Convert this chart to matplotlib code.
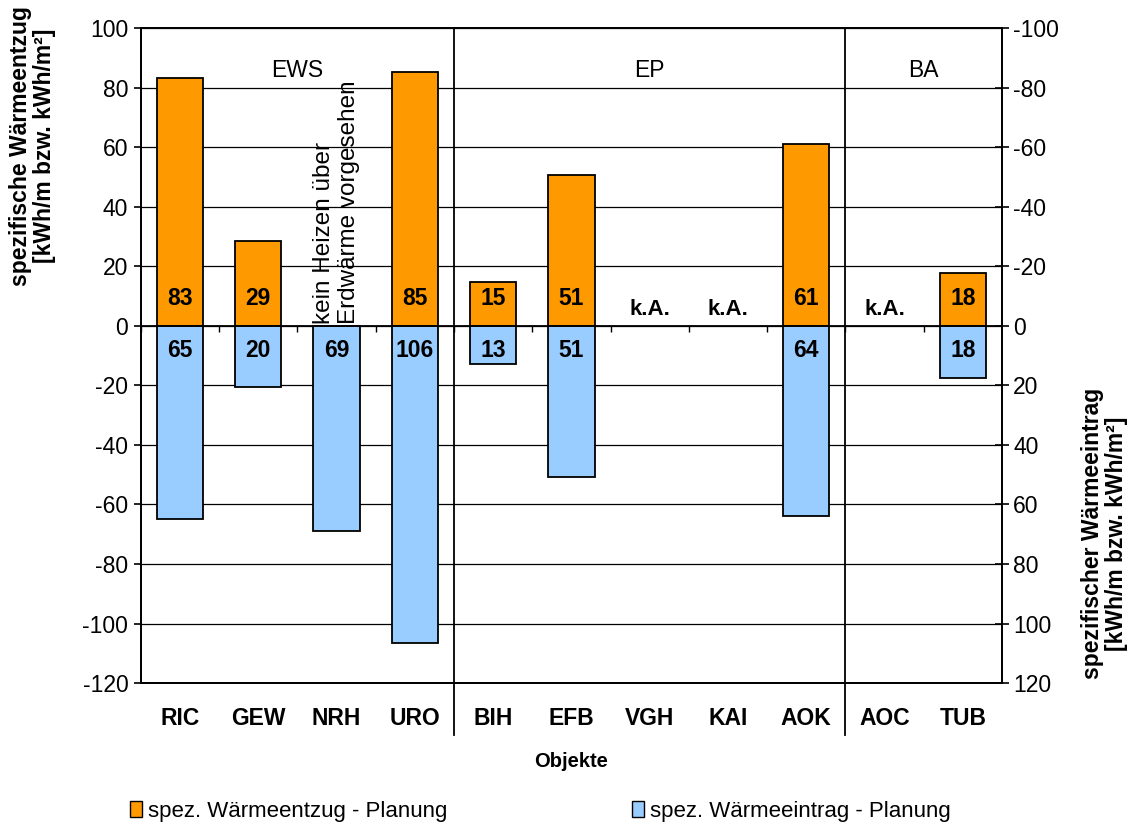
"""Spezifischer Wärmeentzug / Wärmeeintrag (Planung) je Objekt."""

import numpy as np
import matplotlib
matplotlib.use("Agg")
import matplotlib.pyplot as plt
from matplotlib.patches import Patch

plt.rcParams["font.family"] = ["Liberation Sans", "DejaVu Sans"]
plt.rcParams["axes.unicode_minus"] = False

objekte = ["RIC", "GEW", "NRH", "URO", "BIH", "EFB", "VGH", "KAI", "AOK", "AOC", "TUB"]
# None = keine Angabe / kein Balken
entzug = [83.3, 28.6, None, 85.2, 14.6, 50.8, None, None, 61.0, None, 17.6]
eintrag = [65.0, 20.4, 69.0, 106.4, 12.8, 50.8, None, None, 63.8, None, 17.6]
ka_objekte = ["VGH", "KAI", "AOC"]
gruppen = ["EWS", "EP", "BA"]
gruppen_bereich = [(0, 3), (4, 8), (9, 10)]
nrh_hinweis = "kein Heizen über\nErdwärme vorgesehen"

ORANGE = "#FF9900"
BLAU = "#99CCFF"
FS = 16.5

fig = plt.figure(figsize=(11.36, 8.30), dpi=100)
ax = fig.add_axes([0.124, 0.177, 0.758, 0.789])

x = np.arange(len(objekte))
w = 0.59
for i, (e, a) in enumerate(zip(entzug, eintrag)):
    if e is not None:
        ax.bar(i, e, w, color=ORANGE, edgecolor="black", lw=1.3, zorder=3)
        ax.text(i, 9.3, f"{e:.0f}", ha="center", va="center",
                fontsize=FS, fontweight="bold", zorder=4)
    if a is not None:
        ax.bar(i, -a, w, color=BLAU, edgecolor="black", lw=1.3, zorder=3)
        ax.text(i, -8.2, f"{a:.0f}", ha="center", va="center",
                fontsize=FS, fontweight="bold", zorder=4)
for k in ka_objekte:
    ax.text(objekte.index(k), 5.5, "k.A.", ha="center", va="center",
            fontsize=16, fontweight="bold", zorder=4)

# Hinweis bei NRH
ax.text(objekte.index("NRH"), 0.8, nrh_hinweis, rotation=90, ha="center",
        va="bottom", multialignment="left", fontsize=17.5, linespacing=1.15,
        zorder=4)

ax.set_xlim(-0.5, len(objekte) - 0.5)
ax.set_ylim(-120, 100)
ax.set_yticks(np.arange(-120, 101, 20))
ax.tick_params(axis="y", labelsize=FS, direction="out", length=5, width=1.2,
               pad=4)
ax.set_xticks(x)
ax.set_xticklabels(objekte, fontsize=FS, fontweight="bold")
ax.tick_params(axis="x", length=0, pad=17)
ax.grid(axis="y", color="black", lw=0.9, zorder=0)

for s in ax.spines.values():
    s.set_linewidth(1.3)

# Nulllinie mit Kategorie-Trennstrichen
ax.axhline(0, color="black", lw=1.3, zorder=5)
ax.vlines(np.arange(len(objekte) + 1) - 0.5, -2.2, 0, color="black",
          lw=1.0, zorder=5)

# Gruppentrenner und Gruppennamen
trans = ax.get_xaxis_transform()
for (a0, a1), name in zip(gruppen_bereich, gruppen):
    ax.text((a0 + a1) / 2, 0.935, name, transform=trans, ha="center",
            va="center", fontsize=FS)
    if a1 < len(objekte) - 1:
        ax.plot([a1 + 0.5, a1 + 0.5], [-0.08, 1.0], transform=trans,
                color="black", lw=1.3, clip_on=False, zorder=5)

# Rechte Achse (Wärmeeintrag, positiv nach unten)
ax2 = ax.twinx()
ax2.set_ylim(ax.get_ylim())
ax2.set_yticks(np.arange(-120, 101, 20))
ax2.set_yticklabels([f"{-v:d}" for v in np.arange(-120, 101, 20)])
ax2.tick_params(axis="y", labelsize=FS, direction="inout", length=10,
                width=1.2, pad=3)
for s in ax2.spines.values():
    s.set_linewidth(1.3)

fig.text(0.029, 0.824, "spezifische Wärmeentzug\n[kWh/m bzw. kWh/m²]",
         rotation=90, ha="center", va="center", fontsize=16.5,
         fontweight="bold", linespacing=1.05)
fig.text(0.972, 0.357, "spezifischer Wärmeeintrag\n[kWh/m bzw. kWh/m²]",
         rotation=90, ha="center", va="center", fontsize=16.5,
         fontweight="bold", linespacing=1.05)
fig.text(0.503, 0.083, "Objekte", ha="center", va="center", fontsize=14.5,
         fontweight="bold")

handles = [Patch(facecolor=ORANGE, edgecolor="black"),
           Patch(facecolor=BLAU, edgecolor="black")]
fig.legend(handles, ["spez. Wärmeentzug - Planung",
                     "spez. Wärmeeintrag - Planung"],
           loc="lower left", bbox_to_anchor=(0.097, -0.014), ncol=2,
           frameon=False, fontsize=16, handlelength=0.55, handleheight=0.75,
           handletextpad=0.25, columnspacing=8.3)

fig.savefig("out.png", dpi=100)
